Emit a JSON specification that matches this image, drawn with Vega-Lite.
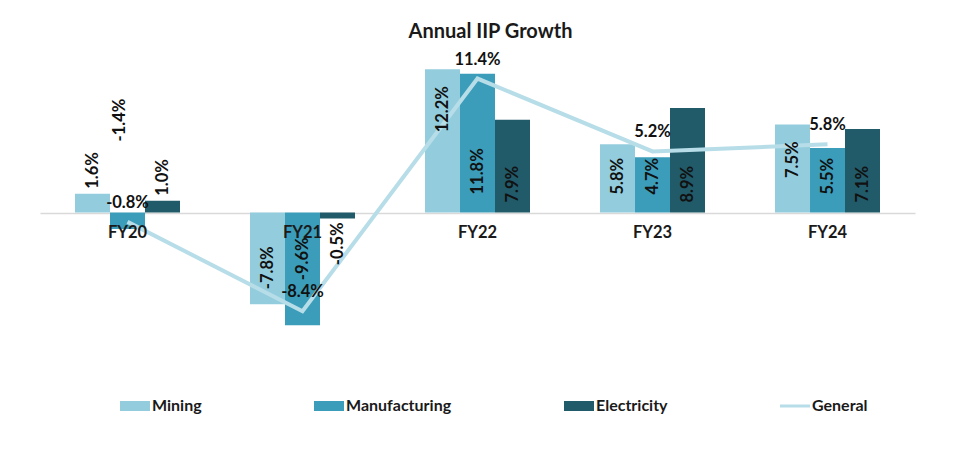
{
  "$schema": "https://vega.github.io/schema/vega-lite/v6.json",
  "width": 875,
  "height": 329,
  "autosize": {"type": "none"},
  "padding": {"left": 40, "top": 48, "right": 49, "bottom": 84},
  "background": "white",
  "config": {"view": {"stroke": null}, "font": "Lato"},
  "title": {
    "text": "Annual IIP Growth",
    "font": "Lato",
    "fontSize": 20,
    "fontWeight": "bold",
    "color": "#1a1a1a",
    "anchor": "middle",
    "baseline": "bottom",
    "offset": 7,
    "dy": 21,
    "dx": 13
  },
  "data": {
    "values": [
      {"fy": "FY20", "series": "Mining", "value": 1.6},
      {"fy": "FY20", "series": "Manufacturing", "value": -1.4},
      {"fy": "FY20", "series": "Electricity", "value": 1.0},
      {"fy": "FY20", "series": "General", "value": -0.8},
      {"fy": "FY21", "series": "Mining", "value": -7.8},
      {"fy": "FY21", "series": "Manufacturing", "value": -9.6},
      {"fy": "FY21", "series": "Electricity", "value": -0.5},
      {"fy": "FY21", "series": "General", "value": -8.4},
      {"fy": "FY22", "series": "Mining", "value": 12.2},
      {"fy": "FY22", "series": "Manufacturing", "value": 11.8},
      {"fy": "FY22", "series": "Electricity", "value": 7.9},
      {"fy": "FY22", "series": "General", "value": 11.4},
      {"fy": "FY23", "series": "Mining", "value": 5.8},
      {"fy": "FY23", "series": "Manufacturing", "value": 4.7},
      {"fy": "FY23", "series": "Electricity", "value": 8.9},
      {"fy": "FY23", "series": "General", "value": 5.2},
      {"fy": "FY24", "series": "Mining", "value": 7.5},
      {"fy": "FY24", "series": "Manufacturing", "value": 5.5},
      {"fy": "FY24", "series": "Electricity", "value": 7.1},
      {"fy": "FY24", "series": "General", "value": 5.8}
    ]
  },
  "transform": [
    {"calculate": "(datum.value < 0 ? '-' : '') + format(abs(datum.value), '.1f') + '%'", "as": "label"},
    {"calculate": "datum.fy + '|' + datum.series", "as": "key"}
  ],
  "encoding": {
    "x": {
      "field": "fy",
      "type": "nominal",
      "sort": ["FY20", "FY21", "FY22", "FY23", "FY24"],
      "scale": {"paddingInner": 0.4, "paddingOuter": 0.2},
      "axis": {
        "title": null,
        "orient": "bottom",
        "offset": -164.5,
        "domain": false,
        "ticks": false,
        "tickSize": 0,
        "labelPadding": 12,
        "labelAngle": 0,
        "labelFont": "Lato",
        "labelFontSize": 16.5,
        "labelFontWeight": "bold",
        "labelColor": "#1a1a1a",
        "zindex": 1
      }
    }
  },
  "layer": [
    {
      "transform": [{"filter": "datum.series !== 'General'"}],
      "mark": {"type": "bar"},
      "encoding": {
        "xOffset": {
          "field": "series",
          "type": "nominal",
          "scale": {"domain": ["Mining", "Manufacturing", "Electricity"], "paddingInner": 0, "paddingOuter": 0}
        },
        "y": {
          "field": "value",
          "type": "quantitative",
          "scale": {"domain": [-14, 14], "nice": false, "zero": false},
          "axis": {
            "title": null,
            "values": [0],
            "grid": true,
            "gridColor": "#d9d9d9",
            "gridWidth": 1.5,
            "labels": false,
            "ticks": false,
            "domain": false
          }
        },
        "color": {
          "field": "series",
          "type": "nominal",
          "scale": {
            "domain": ["Mining", "Manufacturing", "Electricity", "General"],
            "range": ["#93CDDD", "#3B9DB9", "#215A69", "#B7DDE8"]
          },
          "legend": {
            "orient": "none",
            "legendX": 80,
            "legendY": 343,
            "direction": "horizontal",
            "columns": 4,
            "title": null,
            "columnPadding": 112,
            "padding": 0,
            "labelFont": "Lato",
            "labelFontSize": 16,
            "labelFontWeight": "bold",
            "labelColor": "#1a1a1a",
            "labelOffset": 2,
            "labelLimit": 300,
            "symbolSize": 900,
            "symbolStrokeWidth": 0,
            "symbolOpacity": 1,
            "encode": {
              "symbols": {
                "update": {
                  "shape": {"signal": "datum.value === 'General' ? 'M-1,-0.1H1V0.1H-1Z' : 'M-1,-0.333H1V0.333H-1Z'"}
                }
              }
            }
          }
        }
      }
    },
    {
      "transform": [{"filter": "datum.series === 'General'"}],
      "mark": {"type": "line", "color": "#B7DDE8", "strokeWidth": 4},
      "encoding": {"y": {"field": "value", "type": "quantitative"}}
    },
    {
      "transform": [{"filter": "datum.series === 'General'"}],
      "mark": {"type": "text", "dy": -19, "font": "Lato", "fontSize": 16.5, "fontWeight": "bold", "color": "#111111", "baseline": "middle"},
      "encoding": {"y": {"field": "value", "type": "quantitative"}, "text": {"field": "label"}}
    },
    {
      "transform": [{"filter": "indexof(['FY22|Manufacturing','FY23|Mining','FY23|Manufacturing','FY24|Manufacturing'], datum.key) >= 0"}],
      "mark": {"type": "text", "angle": 270, "align": "left", "baseline": "middle", "dx": 18, "font": "Lato", "fontSize": 16.5, "fontWeight": "bold", "color": "#111111"},
      "encoding": {
        "xOffset": {"field": "series", "type": "nominal"},
        "y": {"datum": 0},
        "text": {"field": "label"}
      }
    },
    {
      "transform": [{"filter": "indexof(['FY22|Electricity','FY23|Electricity','FY24|Electricity'], datum.key) >= 0"}],
      "mark": {"type": "text", "angle": 270, "align": "left", "baseline": "middle", "dx": 10, "font": "Lato", "fontSize": 16.5, "fontWeight": "bold", "color": "#111111"},
      "encoding": {
        "xOffset": {"field": "series", "type": "nominal"},
        "y": {"datum": 0},
        "text": {"field": "label"}
      }
    },
    {
      "transform": [{"filter": "indexof(['FY22|Mining','FY24|Mining'], datum.key) >= 0"}],
      "mark": {"type": "text", "angle": 270, "align": "right", "baseline": "middle", "dx": -17, "font": "Lato", "fontSize": 16.5, "fontWeight": "bold", "color": "#111111"},
      "encoding": {
        "xOffset": {"field": "series", "type": "nominal"},
        "y": {"field": "value", "type": "quantitative"},
        "text": {"field": "label"}
      }
    },
    {
      "transform": [{"filter": "indexof(['FY20|Mining','FY20|Electricity'], datum.key) >= 0"}],
      "mark": {"type": "text", "angle": 270, "align": "left", "baseline": "middle", "dx": 5, "font": "Lato", "fontSize": 16.5, "fontWeight": "bold", "color": "#111111"},
      "encoding": {
        "xOffset": {"field": "series", "type": "nominal"},
        "y": {"field": "value", "type": "quantitative"},
        "text": {"field": "label"}
      }
    },
    {
      "transform": [{"filter": "datum.key === 'FY20|Manufacturing'"}],
      "mark": {"type": "text", "angle": 270, "align": "left", "baseline": "middle", "dx": 71, "dy": -8, "font": "Lato", "fontSize": 16.5, "fontWeight": "bold", "color": "#111111"},
      "encoding": {
        "xOffset": {"field": "series", "type": "nominal"},
        "y": {"datum": 0},
        "text": {"field": "label"}
      }
    },
    {
      "transform": [{"filter": "datum.key === 'FY21|Mining'"}],
      "mark": {"type": "text", "angle": 270, "align": "right", "baseline": "middle", "dx": -34, "font": "Lato", "fontSize": 16.5, "fontWeight": "bold", "color": "#111111"},
      "encoding": {
        "xOffset": {"field": "series", "type": "nominal"},
        "y": {"datum": 0},
        "text": {"field": "label"}
      }
    },
    {
      "transform": [{"filter": "datum.key === 'FY21|Manufacturing'"}],
      "mark": {"type": "text", "angle": 270, "align": "right", "baseline": "middle", "dx": -25, "font": "Lato", "fontSize": 16.5, "fontWeight": "bold", "color": "#111111"},
      "encoding": {
        "xOffset": {"field": "series", "type": "nominal"},
        "y": {"datum": 0},
        "text": {"field": "label"}
      }
    },
    {
      "transform": [{"filter": "datum.key === 'FY21|Electricity'"}],
      "mark": {"type": "text", "angle": 270, "align": "right", "baseline": "middle", "dx": -10, "font": "Lato", "fontSize": 16.5, "fontWeight": "bold", "color": "#111111"},
      "encoding": {
        "xOffset": {"field": "series", "type": "nominal"},
        "y": {"datum": 0},
        "text": {"field": "label"}
      }
    }
  ]
}
